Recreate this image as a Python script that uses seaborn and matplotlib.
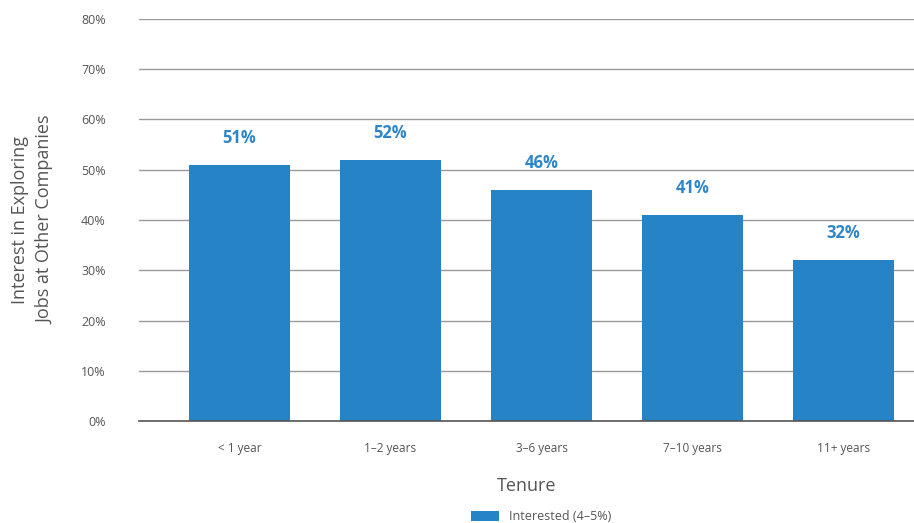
import matplotlib
matplotlib.use("Agg")
import matplotlib.pyplot as plt
import seaborn as sns
import pandas as pd
from matplotlib.patches import Patch

categories = ["< 1 year", "1\u20132 years", "3\u20136 years", "7\u201310 years", "11+ years"]
values = [51, 52, 46, 41, 32]
series_name = "Interested (4\u20135%)"
yticks = [0, 10, 20, 30, 40, 50, 60, 70, 80]

sns.set_theme(style="white")
plt.rcParams['font.family'] = ['Open Sans', 'DejaVu Sans']

df = pd.DataFrame({"Tenure": categories, "Value": values, "Series": series_name})

fig = plt.figure(figsize=(9.14, 5.23), dpi=100)
ax = fig.add_axes([0.152, 0.195, 0.848, 0.7687])

bar_color = "#2683C6"
sns.barplot(data=df, x="Tenure", y="Value", hue="Series", palette=[bar_color],
            width=0.67, ax=ax, legend=False, saturation=1, edgecolor="none",
            linewidth=0)

ax.set_xlim(-0.666, 4.467)
ax.set_ylim(0, 80)
ax.set_yticks(yticks)
ax.set_yticklabels([f"{t}%" for t in yticks])
ax.yaxis.grid(True, color="#9a9a9a", linewidth=1)
ax.set_axisbelow(True)
for s in ["top", "right", "left"]:
    ax.spines[s].set_visible(False)
ax.spines["bottom"].set_color("#555555")
ax.spines["bottom"].set_linewidth(1.2)

ax.tick_params(axis="y", length=0, pad=24, labelsize=9, labelcolor="#555555")
ax.tick_params(axis="x", length=0, pad=15, labelsize=8.5, labelcolor="#555555")

ax.set_xlabel("Tenure", fontsize=13, color="#555555", labelpad=16)
ax.set_ylabel("Interest in Exploring\nJobs at Other Companies", fontsize=13,
              color="#555555", labelpad=19, linespacing=1.5)

for i, v in enumerate(values):
    ax.annotate(f"{v}%", (i, v), xytext=(0, 13), textcoords="offset points",
                ha="center", va="bottom", fontsize=12, fontweight="bold",
                color="#2E86C9")

handles = [Patch(facecolor=bar_color, edgecolor="none")]
fig.legend(handles, [series_name], loc="lower center", bbox_to_anchor=(0.592, -0.022),
           frameon=False, fontsize=9, handlelength=2.2, handleheight=0.8,
           handletextpad=0.8, labelcolor="#555555")

fig.savefig("out.png", dpi=100)
